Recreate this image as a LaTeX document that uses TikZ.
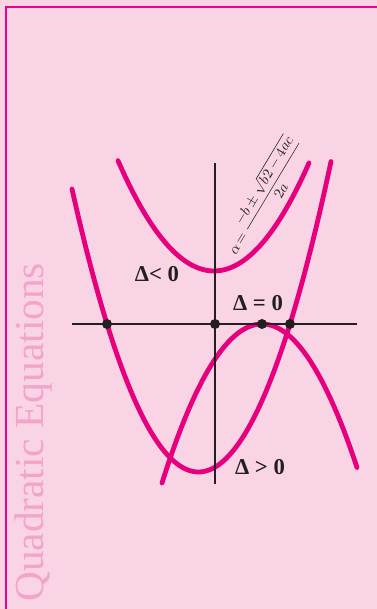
\documentclass[tikz,border=0pt]{standalone}
\usepackage{fontspec}
\setmainfont{Liberation Serif}
\usetikzlibrary{positioning}

\definecolor{pagepink}{RGB}{249,212,228}
\definecolor{qmagenta}{RGB}{230,0,126}
\definecolor{framemag}{RGB}{236,0,140}
\definecolor{titlepink}{RGB}{242,164,202}
\definecolor{axisgray}{RGB}{35,31,32}

\begin{document}
\begin{tikzpicture}[x=0.75pt, y=0.75pt,
  curve/.style={draw=qmagenta, line width=3.6pt, line cap=round},
  axis/.style={draw=axisgray, line width=1.5pt},
  dot/.style={circle, fill=axisgray, inner sep=0pt, minimum size=7.5pt},
  lbl/.style={font=\fontsize{17}{19}\selectfont\bfseries, text=axisgray, inner sep=0pt}
]
  \fill[pagepink] (0,0) rectangle (377,609);
  \useasboundingbox (0,0) rectangle (377,609);
  \draw[framemag, line width=1pt] (6,0) -- (6,602) -- (377,602);

  % side title
  \node[rotate=90, anchor=base west, inner sep=0pt, text=titlepink,
    font=\fontsize{31}{31}\selectfont] (title) at (43,7) {Quadratic Equations};

  % the three parabolas
  \draw[curve, domain=118:309, samples=60] plot (\x, {338+1.197*(0.1*(\x-214))^2});
  \draw[curve, domain=72:331, samples=80] plot (\x, {137+1.768*(0.1*(\x-198.5))^2});
  \draw[curve, domain=162:357, samples=60] plot (\x, {285-1.59*(0.1*(\x-262))^2});

  % axes
  \coordinate (xl) at (72,285);
  \coordinate (xr) at (357,285);
  \coordinate (yt) at (215,446);
  \coordinate (yb) at (215,125);
  \draw[axis] (xl) -- (xr);
  \draw[axis] (yt) -- (yb);

  \node[dot] (rootl) at (107,285) {};
  \node[dot] (origin) at (215,285) {};
  \node[dot] (touch) at (262,285) {};
  \node[dot] (rootr) at (290,285) {};

  % labels
  \node[lbl] (neg) at (157,335) {Δ< 0};
  \node[lbl] (zero) at (258,306) {Δ = 0};
  \node[lbl] (pos) at (260,142) {Δ > 0};
  \node[rotate=59, text=axisgray, font=\fontsize{11}{12}\selectfont, inner sep=0pt] (formula) at (264,413)
    {$\displaystyle\alpha\!=\frac{-b\pm\sqrt{b2-4ac}}{2a}$};
\end{tikzpicture}
\end{document}
